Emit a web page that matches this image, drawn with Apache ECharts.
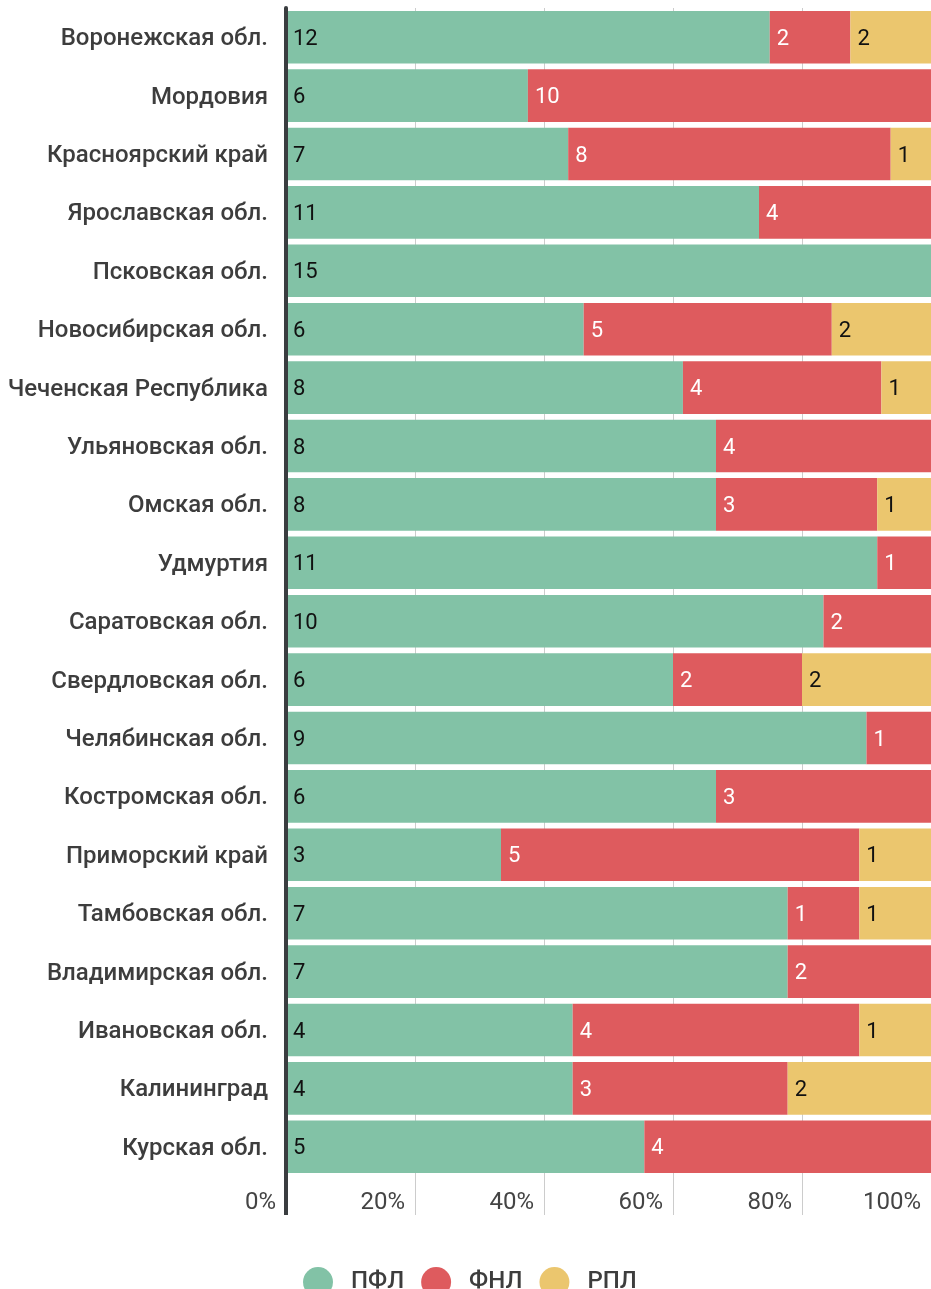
<!DOCTYPE html>
<html>
<head>
<meta charset="utf-8">
<style>
html, body {margin: 0; padding: 0; background: #fff;}
#chart {width: 931px; height: 1289px;}
</style>
<script src="https://cdn.jsdelivr.net/npm/echarts@6/dist/echarts.min.js"></script>
</head>
<body>
<div id="chart"></div>
<script>
var regions = ['Воронежская обл.', 'Мордовия', 'Красноярский край', 'Ярославская обл.', 'Псковская обл.',
    'Новосибирская обл.', 'Чеченская Республика', 'Ульяновская обл.', 'Омская обл.', 'Удмуртия',
    'Саратовская обл.', 'Свердловская обл.', 'Челябинская обл.', 'Костромская обл.', 'Приморский край',
    'Тамбовская обл.', 'Владимирская обл.', 'Ивановская обл.', 'Калининград', 'Курская обл.'];
var pfl = [12, 6, 7, 11, 15, 6, 8, 8, 8, 11, 10, 6, 9, 6, 3, 7, 7, 4, 4, 5];
var fnl = [2, 10, 8, 4, 0, 5, 4, 4, 3, 1, 2, 2, 1, 3, 5, 1, 2, 4, 3, 4];
var rpl = [2, 0, 1, 0, 0, 2, 1, 0, 1, 0, 0, 2, 0, 0, 1, 1, 0, 1, 2, 0];
var leagues = ['ПФЛ', 'ФНЛ', 'РПЛ'];
var colors = ['#82c2a6', '#de5b5e', '#ebc66e'];
var labelColors = ['#111', '#fff', '#111'];

var totals = regions.map(function (r, i) { return pfl[i] + fnl[i] + rpl[i]; });

// доли в процентах, подпись - исходное число
function toPct(arr) {
    return arr.map(function (v, i) {
        return {value: v / totals[i] * 100, raw: v};
    });
}

var chart = echarts.init(document.getElementById('chart'));
var font = 'Roboto, "Noto Sans", sans-serif';

var series = [pfl, fnl, rpl].map(function (arr, k) {
    return {
        name: leagues[k],
        type: 'bar',
        stack: 'all',
        barWidth: '90%',
        data: toPct(arr),
        itemStyle: {color: colors[k]},
        label: {
            show: true,
            position: 'insideLeft',
            distance: 5,
            offset: [2, 2],
            fontFamily: font,
            fontSize: 22,
            color: labelColors[k],
            formatter: function (p) { return p.data.raw > 0 ? String(p.data.raw) : ''; }
        }
    };
});

chart.setOption({
    animation: false,
    color: colors,
    grid: {left: 286, right: 0, top: 8, bottom: 113},
    legend: {
        data: leagues,
        left: 298,
        top: 1262,
        icon: 'circle',
        itemWidth: 30,
        itemHeight: 30,
        itemGap: 17,
        textStyle: {fontFamily: font, fontSize: 24, fontWeight: 500, color: '#3d3d3d', padding: [0, 0, 0, 13]}
    },
    xAxis: {
        type: 'value',
        min: 0,
        max: 100,
        interval: 20,
        axisLine: {show: false},
        axisTick: {show: true, length: 39, lineStyle: {color: '#cccccc'}},
        splitLine: {lineStyle: {color: '#cccccc', width: 1}},
        axisLabel: {
            formatter: '{value}%',
            align: 'right',
            padding: [0, 10, 0, 0],
            margin: 15,
            fontFamily: font,
            fontSize: 24,
            color: '#444'
        }
    },
    yAxis: {
        type: 'category',
        inverse: true,
        z: 10,
        data: regions,
        axisLine: {lineStyle: {color: '#3a3d40', width: 4}},
        axisTick: {show: false},
        axisLabel: {
            margin: 18,
            verticalAlign: 'top',
            lineHeight: 4,
            fontFamily: font,
            fontSize: 24,
            fontWeight: 500,
            color: '#3d3d3d'
        }
    },
    graphic: [{
        type: 'line',
        z: 10,
        shape: {x1: 286, y1: 1176, x2: 286, y2: 1215},
        style: {stroke: '#3a3d40', lineWidth: 4}
    }],
    series: series
});
</script>
</body>
</html>
